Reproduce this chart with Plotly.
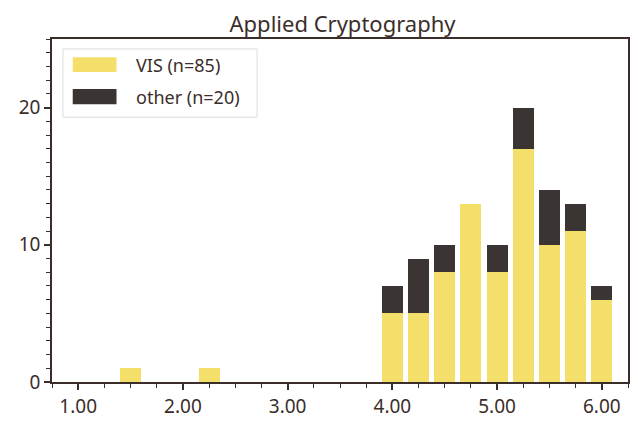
import plotly.graph_objects as go

title = "Applied Cryptography"
bins = [1.5, 2.25, 4.0, 4.25, 4.5, 4.75, 5.0, 5.25, 5.5, 5.75, 6.0]
vis = [1, 1, 5, 5, 8, 13, 8, 17, 10, 11, 6]
other = [0, 0, 2, 4, 2, 0, 2, 3, 4, 2, 1]
series_names = ["VIS (n=85)", "other (n=20)"]
tick_vals = [1, 2, 3, 4, 5, 6]
tick_text = ["1.00", "2.00", "3.00", "4.00", "5.00", "6.00"]

YELLOW = "#f5df6b"
DARK = "#3a3533"
AX = "#3b2e2a"
FONT = "Noto Sans"

fig = go.Figure()
fig.add_trace(go.Bar(x=bins, y=vis, width=0.2, marker=dict(color=YELLOW, line=dict(width=0)),
                     name=series_names[0], showlegend=False))
fig.add_trace(go.Bar(x=bins, y=other, width=0.2, marker=dict(color=DARK, line=dict(width=0)),
                     name=series_names[1], showlegend=False))

# custom legend
fig.add_shape(type="rect", xref="paper", yref="paper", x0=0.019, x1=0.356, y0=0.772, y1=0.971,
              line=dict(color="#dddddd", width=1), fillcolor="white")
fig.add_shape(type="rect", xref="paper", yref="paper", x0=0.036, x1=0.112, y0=0.904, y1=0.947,
              line=dict(width=0), fillcolor=YELLOW)
fig.add_shape(type="rect", xref="paper", yref="paper", x0=0.036, x1=0.112, y0=0.810, y1=0.854,
              line=dict(width=0), fillcolor=DARK)
for name, yy in zip(series_names, [0.925, 0.831]):
    fig.add_annotation(xref="paper", yref="paper", x=0.142, y=yy, text=name, showarrow=False,
                       xanchor="left", yanchor="middle", font=dict(size=18, color=AX, family=FONT))

fig.update_layout(
    barmode="stack",
    width=630, height=419,
    margin=dict(l=44, r=8, t=31, b=45),
    paper_bgcolor="white", plot_bgcolor="white",
    font=dict(family=FONT, color=AX, size=19),
    title=dict(text=title, x=0.531, xanchor="center", xref="container",
               y=0.943, yanchor="bottom", yref="container",
               font=dict(size=22, color=AX, family=FONT)),
    bargap=0,
)
fig.update_xaxes(range=[0.75, 6.25], tickvals=tick_vals, ticktext=tick_text, ticks="outside",
                 ticklen=6, tickwidth=1.5, tickcolor=AX, showline=True, linecolor=AX, linewidth=1.5,
                 mirror=True, showgrid=False, zeroline=False, tickfont=dict(size=19),
                 minor=dict(dtick=0.25, tick0=0.75, ticks="outside", ticklen=4, tickcolor=AX, tickwidth=1.2))
fig.update_yaxes(range=[0, 25], tickvals=[0, 10, 20], ticks="outside",
                 ticklen=6, tickwidth=1.5, tickcolor=AX, showline=True, linecolor=AX, linewidth=1.5,
                 mirror=True, showgrid=False, zeroline=False, tickfont=dict(size=19),
                 minor=dict(dtick=1, tick0=0, ticks="outside", ticklen=4, tickcolor=AX, tickwidth=1.2))

fig.write_html("out.html")
